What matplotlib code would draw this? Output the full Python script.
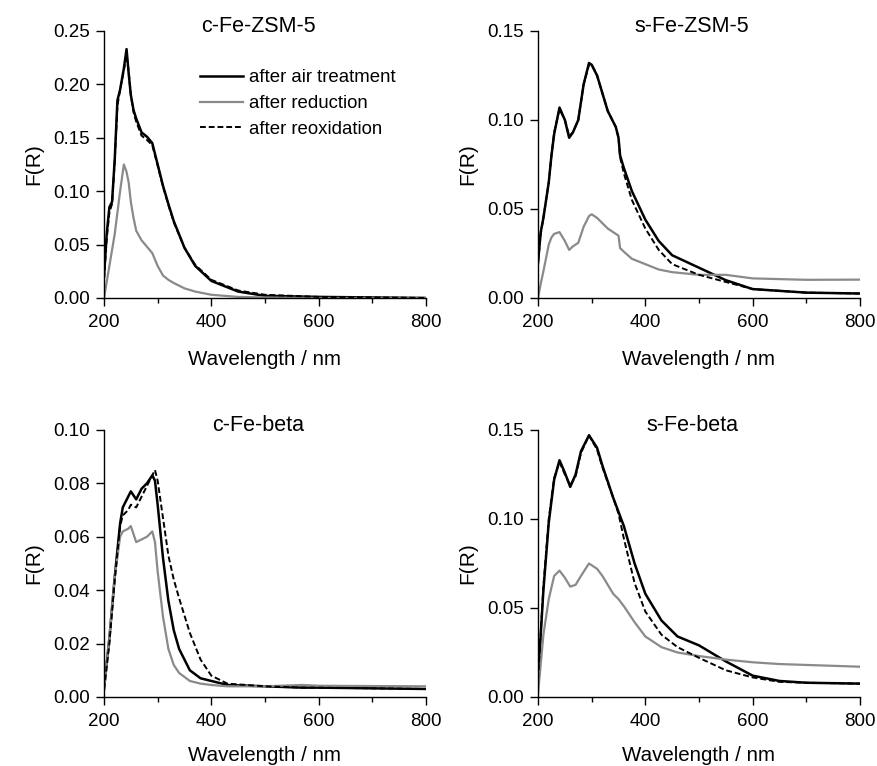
import matplotlib
matplotlib.use("Agg")
import matplotlib.pyplot as plt
from matplotlib.ticker import MultipleLocator

plt.rcParams["font.family"] = ["Liberation Sans", "DejaVu Sans"]

# c-Fe-ZSM-5
wl_czsm = [200, 205, 210, 215, 220, 225, 230, 237, 242, 246, 250, 255, 260, 270,
           280, 290, 300, 310, 320, 330, 350, 370, 400, 450, 500, 600, 800]
czsm_air = [0.02, 0.06, 0.085, 0.09, 0.13, 0.185, 0.195, 0.215, 0.233, 0.21, 0.19,
            0.176, 0.168, 0.155, 0.151, 0.145, 0.125, 0.105, 0.088, 0.072, 0.047,
            0.03, 0.016, 0.006, 0.002, 0.001, 0.0]
czsm_red = [0.0, 0.015, 0.03, 0.045, 0.06, 0.08, 0.1, 0.125, 0.118, 0.108, 0.09,
            0.075, 0.063, 0.054, 0.048, 0.042, 0.03, 0.021, 0.017, 0.014, 0.009,
            0.006, 0.003, 0.001, 0.0005, 0.0, 0.0]
czsm_reox = [0.018, 0.055, 0.08, 0.088, 0.128, 0.18, 0.195, 0.213, 0.228, 0.212,
             0.19, 0.174, 0.165, 0.152, 0.148, 0.143, 0.124, 0.104, 0.087, 0.071,
             0.047, 0.031, 0.017, 0.007, 0.003, 0.001, 0.0]

# s-Fe-ZSM-5
wl_szsm = [200, 205, 210, 220, 225, 230, 240, 250, 258, 265, 275, 285, 295, 300,
           310, 320, 330, 345, 350, 353, 360, 375, 400, 425, 450, 500, 550, 600,
           700, 800]
szsm_air = [0.02, 0.037, 0.045, 0.065, 0.08, 0.092, 0.107, 0.1, 0.09, 0.093, 0.1,
            0.12, 0.132, 0.131, 0.125, 0.115, 0.105, 0.096, 0.09, 0.08, 0.073,
            0.06, 0.044, 0.032, 0.024, 0.017, 0.01, 0.005, 0.003, 0.0025]
szsm_red = [0.0, 0.008, 0.015, 0.03, 0.034, 0.036, 0.037, 0.032, 0.027, 0.029,
            0.031, 0.04, 0.046, 0.047, 0.045, 0.042, 0.039, 0.036, 0.035, 0.028,
            0.026, 0.022, 0.019, 0.016, 0.0145, 0.013, 0.013, 0.011, 0.0102, 0.0103]
szsm_reox = [0.02, 0.036, 0.045, 0.065, 0.08, 0.093, 0.106, 0.1, 0.091, 0.093, 0.1,
             0.12, 0.131, 0.131, 0.125, 0.115, 0.105, 0.096, 0.09, 0.079, 0.07,
             0.055, 0.039, 0.027, 0.019, 0.013, 0.009, 0.005, 0.003, 0.0025]

# c-Fe-beta
wl_cbeta = [200, 210, 220, 230, 235, 245, 250, 260, 270, 280, 290, 295, 300, 310,
            320, 330, 340, 360, 380, 400, 430, 500, 570, 600, 800]
cbeta_air = [0.003, 0.022, 0.045, 0.065, 0.071, 0.075, 0.077, 0.074, 0.078, 0.08,
             0.083, 0.081, 0.072, 0.052, 0.036, 0.025, 0.018, 0.01, 0.007, 0.006,
             0.0045, 0.004, 0.0035, 0.0035, 0.003]
cbeta_red = [0.003, 0.022, 0.045, 0.06, 0.062, 0.063, 0.064, 0.058, 0.059, 0.06,
             0.062, 0.058, 0.047, 0.03, 0.018, 0.012, 0.009, 0.006, 0.005, 0.0045,
             0.004, 0.004, 0.0045, 0.0042, 0.004]
cbeta_reox = [0.003, 0.02, 0.044, 0.064, 0.068, 0.07, 0.072, 0.071, 0.075, 0.079,
              0.083, 0.085, 0.081, 0.067, 0.053, 0.044, 0.037, 0.024, 0.014, 0.008,
              0.005, 0.004, 0.0035, 0.0035, 0.003]

# s-Fe-beta
wl_sbeta = [200, 210, 220, 230, 240, 250, 260, 270, 280, 295, 310, 320, 340, 350,
            360, 380, 400, 430, 460, 500, 550, 600, 650, 700, 800]
sbeta_air = [0.01, 0.06, 0.098, 0.122, 0.133, 0.126, 0.118, 0.125, 0.138, 0.147,
             0.14, 0.13, 0.112, 0.104, 0.096, 0.075, 0.058, 0.043, 0.034, 0.029,
             0.02, 0.012, 0.009, 0.008, 0.0075]
sbeta_red = [0.002, 0.035, 0.055, 0.068, 0.071, 0.067, 0.062, 0.063, 0.068, 0.075,
             0.072, 0.068, 0.058, 0.055, 0.051, 0.042, 0.034, 0.028, 0.025, 0.023,
             0.021, 0.0195, 0.0185, 0.018, 0.017]
sbeta_reox = [0.01, 0.062, 0.1, 0.123, 0.132, 0.125, 0.119, 0.124, 0.137, 0.147,
              0.139, 0.129, 0.112, 0.103, 0.089, 0.064, 0.048, 0.035, 0.028, 0.022,
              0.015, 0.011, 0.0085, 0.008, 0.0075]

series_labels = ["after air treatment", "after reduction", "after reoxidation"]

panels = [
    ("c-Fe-ZSM-5", wl_czsm, czsm_air, czsm_red, czsm_reox, 0.25, 0.05),
    ("s-Fe-ZSM-5", wl_szsm, szsm_air, szsm_red, szsm_reox, 0.15, 0.05),
    ("c-Fe-beta", wl_cbeta, cbeta_air, cbeta_red, cbeta_reox, 0.10, 0.02),
    ("s-Fe-beta", wl_sbeta, sbeta_air, sbeta_red, sbeta_reox, 0.15, 0.05),
]

positions = [
    [0.1186, 0.611, 0.367, 0.3486],
    [0.6135, 0.611, 0.367, 0.3486],
    [0.1186, 0.0901, 0.367, 0.3486],
    [0.6135, 0.0901, 0.367, 0.3486],
]

fig = plt.figure(figsize=(8.77, 7.66), dpi=100)

for i, (title, wl, air, red, reox, ymax, ystep) in enumerate(panels):
    ax = fig.add_axes(positions[i])
    ax.plot(wl, air, color="black", lw=1.8, label=series_labels[0])
    ax.plot(wl, red, color="#8a8a8a", lw=1.6, label=series_labels[1])
    ax.plot(wl, reox, color="black", lw=1.4, ls=(0, (3, 1.5)), label=series_labels[2])

    ax.set_xlim(200, 800)
    ax.set_ylim(0, ymax)
    ax.xaxis.set_major_locator(MultipleLocator(200))
    ax.xaxis.set_minor_locator(MultipleLocator(100))
    ax.yaxis.set_major_locator(MultipleLocator(ystep))
    ax.yaxis.set_major_formatter(plt.FormatStrFormatter("%.2f"))

    for side in ["top", "right"]:
        ax.spines[side].set_visible(False)
    for side in ["left", "bottom"]:
        ax.spines[side].set_linewidth(1.0)

    ax.tick_params(which="major", direction="out", length=6, width=1.0,
                   labelsize=13.5, pad=4)
    ax.tick_params(axis="x", which="major", pad=5.5)
    ax.tick_params(which="minor", direction="out", length=3.5, width=1.0)

    ax.set_xlabel("Wavelength / nm", fontsize=14.8)
    ax.set_ylabel("F(R)", fontsize=15)
    ax.yaxis.set_label_coords(-0.19, 0.5)
    ax.xaxis.set_label_coords(0.5, -0.196 if i < 2 else -0.183)

    ax.text(0.479, 0.997, title, transform=ax.transAxes, ha="center",
            va="baseline", fontsize=15.5)

    if i == 0:
        ax.legend(loc="upper left", bbox_to_anchor=(0.298, 0.856), frameon=False,
                  fontsize=13.4, handlelength=2.3, handletextpad=0.32,
                  labelspacing=0.47, borderpad=0, borderaxespad=0)

fig.savefig("out.png", dpi=100)
